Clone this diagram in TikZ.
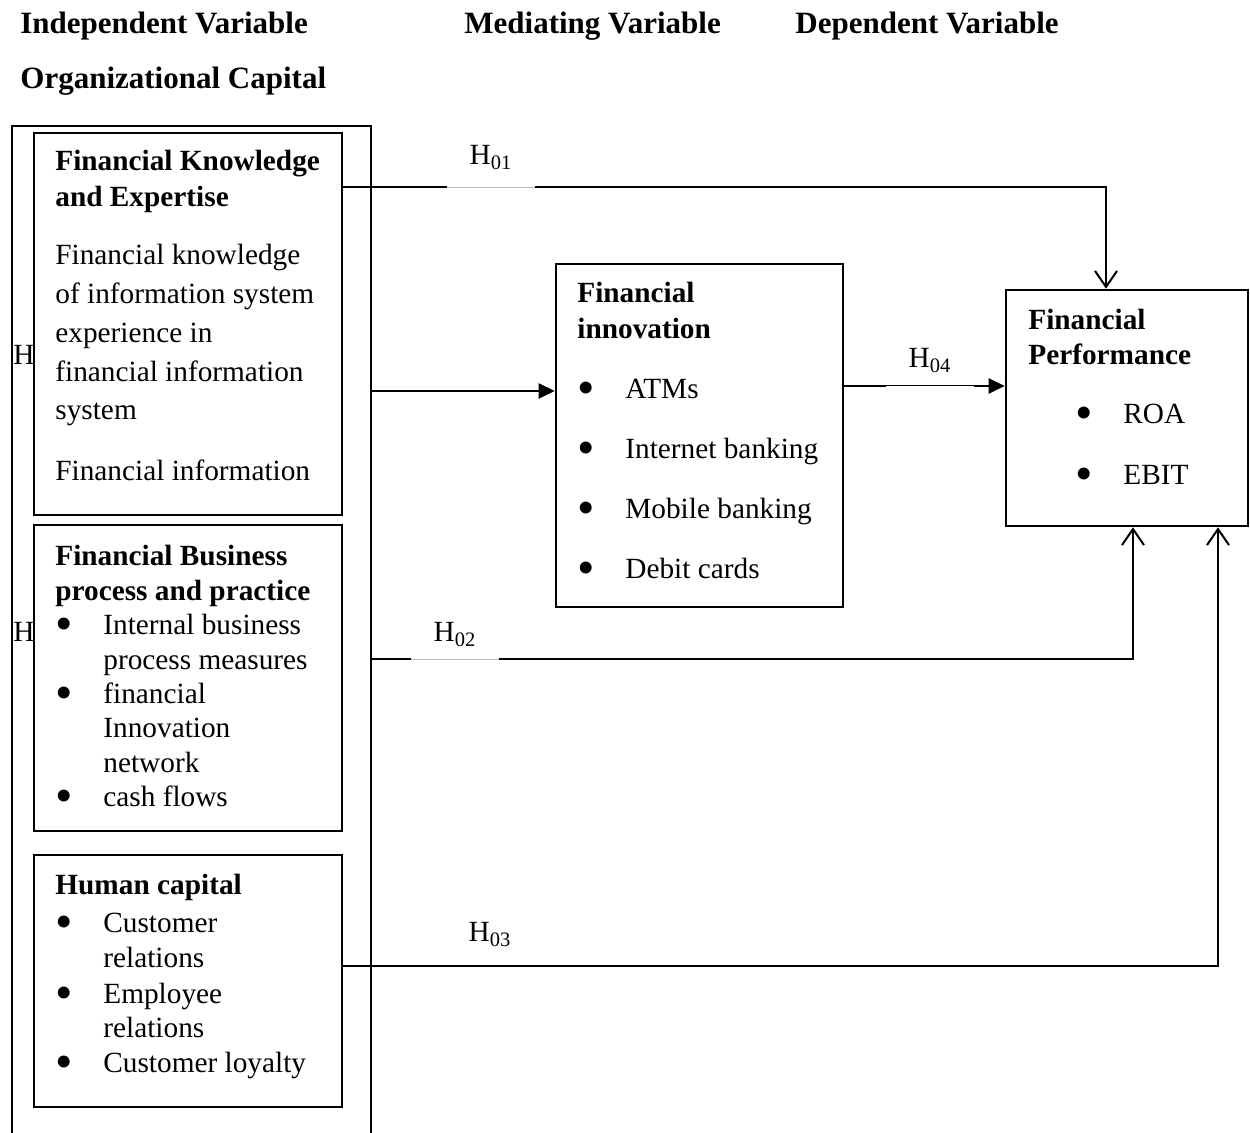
\documentclass[tikz,border=0pt]{standalone}
\usepackage{fontspec}
\setmainfont{Liberation Serif}
\usetikzlibrary{arrows.meta, positioning}

\newcommand{\bodyfont}{\fontsize{14.65}{17.2}\selectfont}
\newcommand{\headfont}{\fontsize{15.5}{18}\selectfont\bfseries}
\newcommand{\bigdot}{\smash{\raisebox{-0.2em}{\scalebox{1.7}{\textbullet}}}}
\newcommand{\bul}[2][0pt]{\hspace*{#1}\makebox[24pt][l]{\bigdot}#2}
\newcommand{\cont}[1]{\hspace*{24pt}#1}

\tikzset{
    varbox/.style={draw, line width=1.3pt, fill=white, inner sep=0pt},
    frame/.style={draw, line width=0.65pt, inner sep=0pt},
    boxtext/.style={anchor=base west, inner sep=0pt, font=\bodyfont},
    head/.style={anchor=base west, inner sep=0pt, font=\headfont},
    hyp/.style={anchor=base, inner sep=0pt, minimum width=44pt, font=\bodyfont},
    link/.style={line width=0.65pt},
    openlink/.style={link, -{Straight Barb[length=8pt, width=11pt, line width=1pt]}},
    fatlink/.style={line width=1.1pt, -{Triangle[length=8pt, width=7.5pt]}},
    gapline/.style={draw=white, line width=0.9pt, double=gray!55, double distance=0.45pt},
    gapthin/.style={draw=white, line width=0.6pt, double=black, double distance=0.5pt}
}

\begin{document}
\begin{tikzpicture}[x=0.5pt, y=-0.5pt]
    \useasboundingbox (0,0) rectangle (1250,1133);

    % column heads
    \node[head] (indep) at (20,34) {Independent Variable};
    \node[head] (medi) at (464,34) {Mediating Variable};
    \node[head] (dep) at (795,34) {Dependent Variable};
    \node[head] (orgcap) at (20,89) {Organizational Capital};

    % outer frame, runs off the bottom of the page
    \node[frame, minimum width=179.5pt, minimum height=512pt] (frame) at (191.5,638) {};
    \foreach \y in {365, 642} {
        \node[boxtext] (stray\y) at (13,\y) {H};
    }

    % boxes
    \node[varbox, minimum width=154pt, minimum height=191pt] (know) at (188,324) {};
    \node[varbox, minimum width=154pt, minimum height=153pt] (proc) at (188,678) {};
    \node[varbox, minimum width=154pt, minimum height=126pt] (human) at (188,981) {};
    \node[varbox, minimum width=143.5pt, minimum height=171.5pt] (innov) at (699.5,435.5) {};
    \node[varbox, minimum width=121pt, minimum height=118pt] (perf) at (1127,408) {};

    \node[boxtext] (knowtxt) at (55,171) {\parbox[t]{170pt}{%
        \textbf{Financial Knowledge}\\[0.8pt]
        \textbf{and Expertise}\\[11.8pt]
        Financial knowledge\\[2.3pt]
        of information system\\[2.3pt]
        experience in\\[2.3pt]
        financial information\\[1.8pt]
        system\\[13.3pt]
        Financial information}};
    \node[boxtext] (proctxt) at (55,566) {\parbox[t]{170pt}{%
        \textbf{Financial Business}\\
        \textbf{process and practice}\\
        \bul{Internal business}\\
        \cont{process measures}\\
        \bul{financial}\\
        \cont{Innovation}\\
        \cont{network}\\
        \bul{cash flows}}};
    \node[boxtext] (humantxt) at (55,895) {\parbox[t]{170pt}{%
        \textbf{Human capital}\\[1.8pt]
        \bul{Customer}\\
        \cont{relations}\\[0.8pt]
        \bul{Employee}\\
        \cont{relations}\\[0.3pt]
        \bul{Customer loyalty}}};
    \node[boxtext] (innovtxt) at (577,303) {\parbox[t]{140pt}{%
        \textbf{Financial}\\[0.8pt]
        \textbf{innovation}\\[12.8pt]
        \bul{ATMs}\\[12.8pt]
        \bul{Internet banking}\\[12.8pt]
        \bul{Mobile banking}\\[12.8pt]
        \bul{Debit cards}}};
    \node[boxtext] (perftxt) at (1028,330) {\parbox[t]{110pt}{%
        \textbf{Financial}\\[0.3pt]
        \textbf{Performance}\\[12.3pt]
        \bul[23.5pt]{ROA}\\[13.3pt]
        \bul[23.5pt]{EBIT}}};

    % hypothesis paths
    \coordinate (r1) at (1106,187);
    \coordinate (r2) at (1133,659);
    \coordinate (r3) at (1218,966);
    \coordinate (m1) at (0,391);
    \coordinate (m4) at (0,386);

    \draw[openlink] (know.east |- r1) -- (r1) -- (r1 |- perf.north);
    \draw[openlink] (frame.east |- r2) -- (r2) -- (r2 |- perf.south);
    \draw[openlink] (human.east |- r3) -- (r3) -- (r3 |- perf.south);
    \draw[fatlink] (frame.east |- m1) -- (innov.west |- m1);
    \draw[fatlink] (innov.east |- m4) -- (perf.west |- m4);

    \node[hyp] (h01) at (491,165) {H\textsubscript{01}};
    \node[hyp] (h02) at (455,642) {H\textsubscript{02}};
    \node[hyp] (h03) at (490,942) {H\textsubscript{03}};
    \node[hyp] (h04) at (930,368) {H\textsubscript{04}};

    \draw[gapline] (h01.west |- r1) -- (h01.east |- r1);
    \draw[gapline] (h02.west |- r2) -- (h02.east |- r2);
    \draw[gapthin] (h04.west |- m4) -- (h04.east |- m4);
\end{tikzpicture}
\end{document}
